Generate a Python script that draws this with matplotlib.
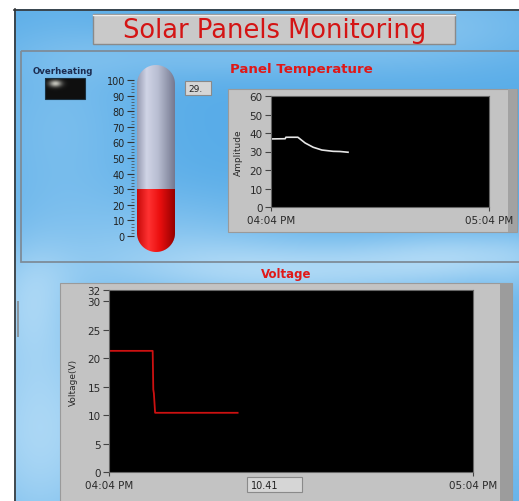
import numpy as np
import matplotlib
matplotlib.use("Agg")
import matplotlib.pyplot as plt
from matplotlib.patches import Rectangle, PathPatch
from matplotlib.path import Path

W, H = 519, 502

# panel temperature trace (minutes after 04:04 PM)
temp_minutes = [0, 3.9, 4.1, 7.4, 9.4, 11.6, 14.0, 17.1, 19.0, 21.2]
temp_values = [36.8, 36.9, 37.7, 37.7, 34.6, 32.3, 30.8, 30.1, 30.0, 29.6]

# voltage trace
volt_minutes = [0.15, 7.2, 7.3, 7.4, 7.6, 21.2]
volt_values = [21.3, 21.3, 14.5, 13.8, 10.41, 10.41]

time_ticks = [0, 60]
time_labels = ["04:04 PM", "05:04 PM"]
temp_yticks = [0, 10, 20, 30, 40, 50, 60]
volt_yticks = [0, 5, 10, 15, 20, 25, 30, 32]
thermo_ticks = list(range(0, 101, 10))

temp_now = temp_values[-1]
volt_now = volt_values[-1]

RED = "#e01818"


def rect(x0, y0, x1, y1):
    # pixel box -> figure fraction
    return [x0 / W, 1 - y1 / H, (x1 - x0) / W, (y1 - y0) / H]


fig = plt.figure(figsize=(W / 100, H / 100), dpi=100)

# ---- background (sky) ----
bg = fig.add_axes([0, 0, 1, 1])
bg.set_xlim(0, W)
bg.set_ylim(H, 0)
bg.axis("off")

yy, xx = np.mgrid[0:H, 0:W]
cloud = np.zeros((H, W))
blobs = [(40, 430, 55, 90, 0.65), (300, 272, 130, 22, 0.55), (180, 240, 90, 35, 0.3),
         (430, 25, 90, 30, 0.3), (60, 130, 60, 80, 0.25), (470, 255, 80, 20, 0.45),
         (220, 55, 120, 18, 0.25), (30, 300, 30, 40, 0.35), (515, 400, 20, 80, 0.3)]
for cx, cy, sx, sy, s in blobs:
    cloud += s * np.exp(-((xx - cx) ** 2 / (2 * sx ** 2) + (yy - cy) ** 2 / (2 * sy ** 2)))
cloud = np.clip(cloud, 0, 1)[..., None]
base = np.array([88, 172, 232]) / 255
light = np.array([215, 238, 252]) / 255
sky = base * (1 - cloud) + light * cloud
bg.imshow(sky, extent=(0, W, H, 0), aspect="auto", zorder=0)

# white margins and outer border
bg.add_patch(Rectangle((0, 0), W, 10, fc="white", ec="none", zorder=1))
bg.add_patch(Rectangle((0, 0), 14, H, fc="white", ec="none", zorder=1))
bg.plot([14.5, 14.5], [10, H], color="#333333", lw=1.2, zorder=2)
bg.plot([14, W], [10.5, 10.5], color="#333333", lw=1.2, zorder=2)

# title box
bg.add_patch(Rectangle((93, 15), 362, 30, fc="#c9c9c9", ec="#8a8a8a", lw=1, zorder=2))
bg.plot([93, 455], [15.5, 15.5], color="#eeeeee", lw=1, zorder=3)
bg.text(275, 31, "Solar Panels Monitoring", color="#d41414", fontsize=18.5,
        ha="center", va="center", zorder=4)

# upper frame
bg.add_patch(Rectangle((21, 52), 520, 211, fill=False, ec="#7e8c99", lw=1.3, zorder=2))
bg.add_patch(Rectangle((17, 302), 2, 36, fc="#8a96a0", ec="none", zorder=2))

# overheating LED
bg.text(63, 71, "Overheating", fontsize=6.2, fontweight="bold", color="#1c2c50",
        ha="center", va="center", zorder=3)
ly, lx = np.mgrid[0:21, 0:40]
glow = np.exp(-((lx - 10) ** 2 / 40.0 + (ly - 5) ** 2 / 12.0))[..., None]
led = np.array([0.06, 0.06, 0.06]) * (1 - glow) + np.array([0.75, 0.75, 0.72]) * glow
bg.imshow(led, extent=(45, 85, 100, 79), aspect="auto", zorder=3)
bg.add_patch(Rectangle((45, 79), 40, 21, fill=False, ec="#1a3040", lw=0.8, zorder=4))

# value box for thermometer
bg.add_patch(Rectangle((185, 82), 26, 14, fc="#d6d6d6", ec="#8a8a8a", lw=0.8, zorder=3))
bg.text(188, 89.5, f"{int(temp_now)}.", fontsize=6.5, color="#222222",
        ha="left", va="center", zorder=4)

# labels
bg.text(230, 69, "Panel Temperature", fontsize=9.6, fontweight="bold", color=RED,
        ha="left", va="center", zorder=3)
bg.text(286, 275, "Voltage", fontsize=8.5, fontweight="bold", color=RED,
        ha="center", va="center", zorder=3)

# chart frames
bg.add_patch(Rectangle((228, 90), 289, 143, fc="#c3c3c3", ec="#9a9a9a", lw=0.8, zorder=2))
bg.add_patch(Rectangle((508, 90), 9, 143, fc="#a2a2a2", ec="none", zorder=2))
bg.add_patch(Rectangle((60, 284), 452, 230, fc="#c3c3c3", ec="#9a9a9a", lw=0.8, zorder=2))
bg.add_patch(Rectangle((500, 284), 12, 230, fc="#9c9c9c", ec="none", zorder=2))

# voltage value box
bg.add_patch(Rectangle((247, 478), 55, 15, fc="#d6d6d6", ec="#8a8a8a", lw=0.8, zorder=3))
bg.text(251, 486, f"{volt_now:.2f}", fontsize=7, color="#222222",
        ha="left", va="center", zorder=4)

# ---- thermometer ----
px_per_unit = (237 - 81) / 100
ylo = 0 - (253 - 237) / px_per_unit
yhi = 100 + (81 - 66) / px_per_unit
th = fig.add_axes(rect(137, 66, 175, 253))
th.set_xlim(0, 1)
th.set_ylim(ylo, yhi)
th.axis("off")
r = 19 / px_per_unit
t1 = np.linspace(0, np.pi, 40)
t2 = np.linspace(np.pi, 2 * np.pi, 40)
xs = np.concatenate([0.5 + 0.5 * np.cos(t1), 0.5 + 0.5 * np.cos(t2)])
ys = np.concatenate([yhi - r + r * np.sin(t1), ylo + r + r * np.sin(t2)])
tube = PathPatch(Path(np.column_stack([xs, ys]), closed=False), fc="none", ec="none")
th.add_patch(tube)

gx = np.linspace(0, 1, 60)
grey = np.column_stack([np.interp(gx, [0, 0.25, 0.55, 1], c) for c in
                        ([150, 208, 185, 118], [155, 212, 190, 122], [178, 230, 210, 145])]) / 255
redc = np.column_stack([np.interp(gx, [0, 0.3, 0.6, 1], c) for c in
                        ([200, 255, 235, 150], [10, 50, 15, 0], [10, 50, 15, 0])]) / 255
im1 = th.imshow(grey[None], extent=(0, 1, ylo, yhi), aspect="auto", interpolation="bilinear")
im1.set_clip_path(tube)
im2 = th.imshow(redc[None], extent=(0, 1, ylo, temp_now), aspect="auto", interpolation="bilinear")
im2.set_clip_path(tube)

sc = fig.add_axes(rect(134, 66, 134.5, 253))
sc.set_ylim(ylo, yhi)
sc.patch.set_visible(False)
for s in sc.spines.values():
    s.set_visible(False)
sc.set_xticks([])
sc.set_yticks(thermo_ticks)
sc.set_yticks(np.arange(0, 101, 2), minor=True)
sc.tick_params(axis="y", which="major", length=5, width=0.8, color="#333333",
               labelsize=7, labelcolor="#222222", pad=1.5)
sc.tick_params(axis="y", which="minor", length=2.5, width=0.5, color="#444444")

# ---- temperature chart ----
tax = fig.add_axes(rect(271, 97, 489, 208))
tax.set_facecolor("black")
tax.plot(temp_minutes, temp_values, color="#e6e6e6", lw=1.2)
tax.set_xlim(0, 60)
tax.set_ylim(0, 60)
tax.set_yticks(temp_yticks)
tax.set_xticks(time_ticks)
tax.set_xticklabels(time_labels)
tax.tick_params(labelsize=7.5, labelcolor="#2a2a2a", color="#444444", length=4, width=0.8, pad=2)
tax.tick_params(axis="x", length=3, pad=3)
tax.set_ylabel("Amplitude", fontsize=6.5, color="#2a2a2a")
tax.yaxis.set_label_coords(-0.128, 0.5)
for s in tax.spines.values():
    s.set_color("#666666")
    s.set_linewidth(0.8)

# ---- voltage chart ----
vax = fig.add_axes(rect(109, 291, 473, 473))
vax.set_facecolor("black")
vax.plot(volt_minutes, volt_values, color="#cc1111", lw=1.3)
vax.set_xlim(0, 60)
vax.set_ylim(0, 32)
vax.set_yticks(volt_yticks)
vax.set_xticks(time_ticks)
vax.set_xticklabels(time_labels)
vax.tick_params(labelsize=7.5, labelcolor="#2a2a2a", color="#444444", length=4, width=0.8, pad=2)
vax.tick_params(axis="x", length=3, pad=3)
vax.set_ylabel("Voltage(V)", fontsize=6.5, color="#2a2a2a")
vax.yaxis.set_label_coords(-0.085, 0.5)
for s in vax.spines.values():
    s.set_color("#666666")
    s.set_linewidth(0.8)

fig.savefig("out.png", dpi=100)
